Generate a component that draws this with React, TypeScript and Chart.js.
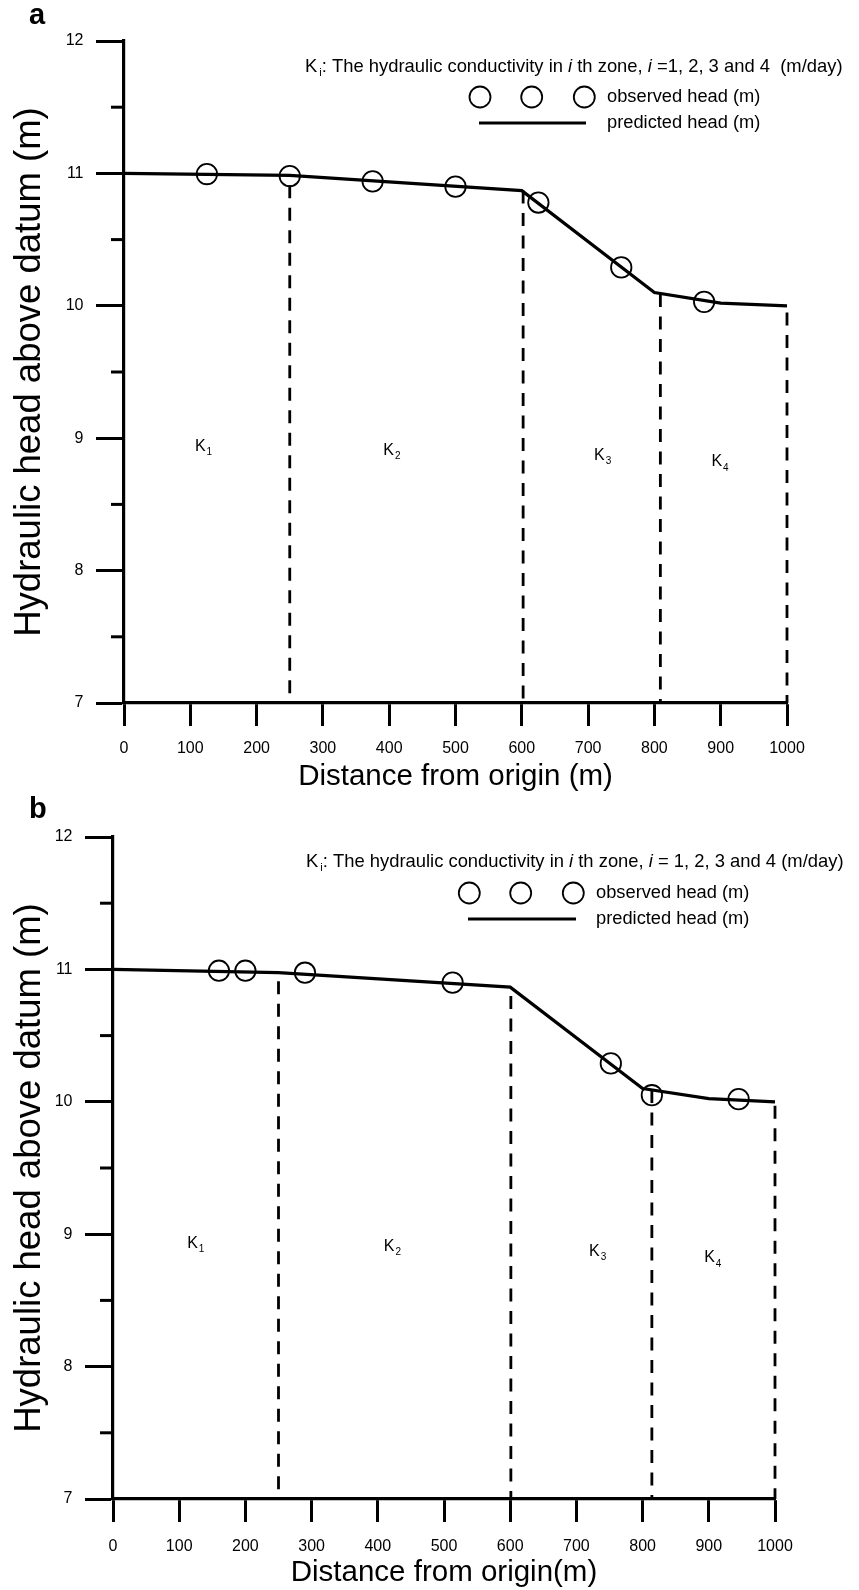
import React, { useEffect, useRef } from 'react';
import { Chart, registerables } from 'chart.js';

Chart.register(...registerables);

// ---------- data ----------
const xTicksStep = 100;
const yTicksStep = 0.5;
const xRange = [0, 1000];
const yRange = [7, 12];

// Panel a
const predA_x = [0, 250, 600, 800, 900, 1000];
const predA_y = [11.0, 10.985, 10.87, 10.1, 10.02, 10.0];
const obsA_x = [125, 250, 375, 500, 625, 750, 875];
const obsA_y = [10.995, 10.98, 10.94, 10.9, 10.78, 10.29, 10.03];
const zoneA_x = [250, 602, 809, 1000];
const zoneA_top = [10.91, 10.87, 10.09, 9.95];
const zoneLabelA_x = [120, 404, 722, 899];
const zoneLabelA_y = [8.94, 8.91, 8.87, 8.82];

// Panel b
const predB_x = [0, 250, 600, 800, 900, 1000];
const predB_y = [11.0, 10.975, 10.866, 10.1, 10.024, 10.0];
const obsB_x = [160, 200, 290, 513, 752, 814, 945];
const obsB_y = [10.99, 10.99, 10.975, 10.9, 10.29, 10.05, 10.02];
const zoneB_x = [250, 601, 814, 1000];
const zoneB_top = [10.91, 10.8, 10.09, 9.97];
const zoneLabelB_x = [125, 422, 732, 906];
const zoneLabelB_y = [8.93, 8.91, 8.87, 8.82];

const zoneSubs = ['1', '2', '3', '4'];

const headerA: [string, string][] = [
  ['K', 'n'], ['i', 'sub'], [': The hydraulic conductivity in ', 'n'], ['i', 'it'],
  [' th zone, ', 'n'], ['i', 'it'], [' =1, 2, 3 and 4  (m/day)', 'n'],
];
const headerB: [string, string][] = [
  ['K', 'n'], ['i', 'sub'], [': The hydraulic conductivity in ', 'n'], ['i', 'it'],
  [' th zone, ', 'n'], ['i', 'it'], [' = 1, 2, 3 and 4 (m/day)', 'n'],
];
const obsLabel = 'observed head (m)';
const predLabel = 'predicted head (m)';
const yTitle = 'Hydraulic head above datum (m)';
const xTitleA = 'Distance from origin (m)';
const xTitleB = 'Distance from origin(m)';

const FAMILY = "'Liberation Sans', Arial, Helvetica, sans-serif";

type PanelCfg = {
  letter: string;
  predX: number[]; predY: number[];
  obsX: number[]; obsY: number[];
  zoneX: number[]; zoneTop: number[];
  zlX: number[]; zlY: number[];
  header: [string, string][];
  xTitle: string;
  left: number; right: number; top: number; bottom: number;
  xTitlePad: number; xTickPad: number;
  legend: { hx: number; hy: number; cx: number[]; cy: number; lx1: number; lx2: number; ly: number; tx: number };
  letterPos: [number, number];
};

const CW = 859;
const CH = 795;

const panels: PanelCfg[] = [
  {
    letter: 'a', predX: predA_x, predY: predA_y, obsX: obsA_x, obsY: obsA_y,
    zoneX: zoneA_x, zoneTop: zoneA_top, zlX: zoneLabelA_x, zlY: zoneLabelA_y,
    header: headerA, xTitle: xTitleA,
    left: 124, right: 787, top: 41, bottom: 703, xTitlePad: 3, xTickPad: 13,
    legend: { hx: 305, hy: 67, cx: [480, 531.7, 584.3], cy: 97, lx1: 479, lx2: 586, ly: 123, tx: 607 },
    letterPos: [29, 24],
  },
  {
    letter: 'b', predX: predB_x, predY: predB_y, obsX: obsB_x, obsY: obsB_y,
    zoneX: zoneB_x, zoneTop: zoneB_top, zlX: zoneLabelB_x, zlY: zoneLabelB_y,
    header: headerB, xTitle: xTitleB,
    left: 113, right: 775, top: 42, bottom: 704, xTitlePad: 2, xTickPad: 15,
    legend: { hx: 306, hy: 67, cx: [469.3, 520.7, 573.3], cy: 98, lx1: 468, lx2: 576, ly: 124, tx: 596 },
    letterPos: [29, 23],
  },
];

function makeChart(canvas: HTMLCanvasElement, p: PanelCfg) {
  const datasets: any[] = [];
  datasets.push({
    type: 'line',
    label: predLabel,
    data: p.predX.map((x, i) => ({ x, y: p.predY[i] })),
    borderColor: '#000',
    borderWidth: 3.2,
    pointRadius: 0,
    tension: 0,
    fill: false,
    clip: 6,
    order: 2,
  });
  p.zoneX.forEach((x, i) => {
    datasets.push({
      type: 'line',
      label: 'zone' + i,
      data: [{ x, y: p.zoneTop[i] }, { x, y: yRange[0] }],
      borderColor: '#000',
      borderWidth: 2.8,
      borderDash: [13, 9.5],
      pointRadius: 0,
      fill: false,
      clip: 6,
      order: 3,
    });
  });
  datasets.push({
    type: 'scatter',
    label: obsLabel,
    data: p.obsX.map((x, i) => ({ x, y: p.obsY[i] })),
    borderColor: '#000',
    backgroundColor: 'rgba(0,0,0,0)',
    borderWidth: 1.8,
    pointRadius: 10.2,
    pointHoverRadius: 10.2,
    pointStyle: 'circle',
    showLine: false,
    clip: 12,
    order: 1,
  });

  const overlay = {
    id: 'overlay' + p.letter,
    afterDraw(chart: any) {
      const ctx: CanvasRenderingContext2D = chart.ctx;
      const xs = chart.scales.x;
      const ys = chart.scales.y;
      const area = chart.chartArea;
      ctx.save();
      ctx.strokeStyle = '#000';
      ctx.fillStyle = '#000';
      // minor y ticks
      ctx.lineWidth = 3;
      ys.ticks.filter((t: any) => !Number.isInteger(t.value)).forEach((t: any) => {
        const py = ys.getPixelForValue(t.value);
        ctx.beginPath();
        ctx.moveTo(area.left - 13, py);
        ctx.lineTo(area.left, py);
        ctx.stroke();
      });
      // zone labels
      ctx.textBaseline = 'middle';
      p.zlX.forEach((zx, i) => {
        const px = xs.getPixelForValue(zx);
        const py = ys.getPixelForValue(p.zlY[i]);
        ctx.font = `16px ${FAMILY}`;
        const w1 = ctx.measureText('K').width;
        ctx.font = `10px ${FAMILY}`;
        const w2 = ctx.measureText(zoneSubs[i]).width;
        const sx = px - (w1 + w2 + 1) / 2;
        ctx.font = `16px ${FAMILY}`;
        ctx.textAlign = 'left';
        ctx.fillText('K', sx, py);
        ctx.font = `10px ${FAMILY}`;
        ctx.fillText(zoneSubs[i], sx + w1 + 1, py + 6);
      });
      // legend header
      const L = p.legend;
      let hx = L.hx;
      p.header.forEach(([txt, st]) => {
        if (st === 'sub') {
          ctx.font = `11px ${FAMILY}`;
          hx += 2;
          ctx.fillText(txt, hx, L.hy + 6);
          hx += ctx.measureText(txt).width;
        } else {
          ctx.font = `${st === 'it' ? 'italic ' : ''}18.4px ${FAMILY}`;
          ctx.fillText(txt, hx, L.hy);
          hx += ctx.measureText(txt).width;
        }
      });
      // legend circles
      ctx.lineWidth = 1.8;
      L.cx.forEach((cx) => {
        ctx.beginPath();
        ctx.arc(cx, L.cy, 10.5, 0, Math.PI * 2);
        ctx.stroke();
      });
      ctx.font = `18.3px ${FAMILY}`;
      ctx.fillText(obsLabel, L.tx, L.cy);
      ctx.lineWidth = 3.2;
      ctx.beginPath();
      ctx.moveTo(L.lx1, L.ly);
      ctx.lineTo(L.lx2, L.ly);
      ctx.stroke();
      ctx.fillText(predLabel, L.tx, L.ly);
      // panel letter
      ctx.font = `bold 29px ${FAMILY}`;
      ctx.textBaseline = 'alphabetic';
      ctx.fillText(p.letter, p.letterPos[0], p.letterPos[1]);
      ctx.restore();
    },
  };

  return new Chart(canvas, {
    type: 'scatter',
    data: { datasets },
    options: {
      animation: false,
      responsive: false,
      events: [],
      layout: { padding: { left: 0, top: p.top, right: CW - p.right, bottom: 0 } },
      plugins: { legend: { display: false }, tooltip: { enabled: false } },
      scales: {
        x: {
          type: 'linear',
          min: xRange[0],
          max: xRange[1],
          afterFit: (s: any) => { s.height = CH - p.bottom; },
          ticks: {
            stepSize: xTicksStep,
            color: '#000',
            font: { family: FAMILY, size: 16 },
            padding: p.xTickPad,
            maxRotation: 0,
            autoSkip: false,
            callback: (v: any) => String(v),
          },
          grid: {
            display: true,
            drawOnChartArea: false,
            drawTicks: true,
            tickLength: 23,
            tickWidth: 3,
            tickColor: '#000',
            color: '#000',
          },
          border: { display: true, color: '#000', width: 3.2 },
          title: {
            display: true,
            text: p.xTitle,
            color: '#000',
            font: { family: FAMILY, size: 29.5, lineHeight: 1 },
            padding: { top: 0, bottom: p.xTitlePad },
          },
        },
        y: {
          type: 'linear',
          min: yRange[0],
          max: yRange[1],
          afterFit: (s: any) => { s.width = p.left; },
          ticks: {
            stepSize: yTicksStep,
            color: '#000',
            font: { family: FAMILY, size: 16 },
            padding: 12.5,
            autoSkip: false,
            callback: (v: any) => (Number.isInteger(v) ? String(v) : ''),
          },
          grid: {
            display: true,
            drawOnChartArea: false,
            drawTicks: true,
            tickLength: 28,
            tickWidth: 3,
            tickColor: (c: any) => (c.tick && Number.isInteger(c.tick.value) ? '#000' : 'rgba(0,0,0,0)'),
            color: '#000',
          },
          border: { display: true, color: '#000', width: 3.2 },
          title: {
            display: true,
            text: yTitle,
            color: '#000',
            font: { family: FAMILY, size: 36.5, lineHeight: 1 },
            padding: { top: 12, bottom: 0 },
          },
        },
      },
    },
    plugins: [overlay],
  } as any);
}

function Panel({ cfg }: { cfg: PanelCfg }) {
  const ref = useRef<HTMLCanvasElement>(null);
  useEffect(() => {
    if (!ref.current) return;
    const ch = makeChart(ref.current, cfg);
    return () => ch.destroy();
  }, [cfg]);
  return <canvas ref={ref} width={CW} height={CH} style={{ display: 'block', width: CW, height: CH }} />;
}

export default function App() {
  return (
    <div style={{ position: 'fixed', left: 0, top: 0, width: CW, height: CH * 2, background: '#fff', overflow: 'hidden' }}>
      {panels.map((p) => (
        <Panel key={p.letter} cfg={p} />
      ))}
    </div>
  );
}
